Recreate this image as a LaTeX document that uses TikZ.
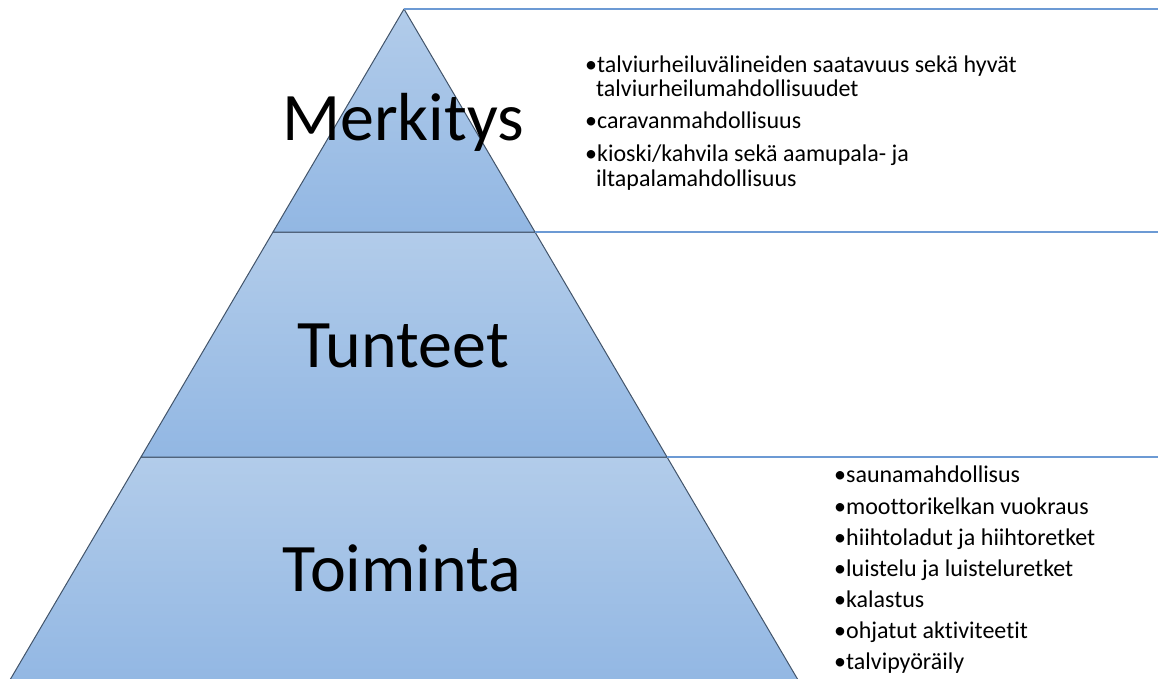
\documentclass[tikz,border=0pt]{standalone}
\usepackage{fontspec}
\setmainfont{Carlito}[Ligatures=NoCommon]
\definecolor{tiertop}{RGB}{178,204,234}
\definecolor{tierbot}{RGB}{146,183,227}
\definecolor{tieredge}{RGB}{66,84,106}
\definecolor{guideblue}{RGB}{108,154,212}
\tikzset{
  tier/.style={top color=tiertop, bottom color=tierbot, draw=tieredge, line width=1pt, line join=round},
  tierlabel/.style={font=\fontsize{68}{70}\selectfont, text=black, inner sep=0pt},
  guide/.style={draw=guideblue, line width=1.4pt},
  item/.style={font=\fontsize{24}{26}\selectfont, text=black, anchor=base west, inner sep=0pt},
}
\begin{document}
\begin{tikzpicture}[x=1pt,y=-1pt]
\useasboundingbox (0,0) rectangle (1158,679);
\clip (0,0) rectangle (1158,679);

% pyramid corners
\coordinate (apex) at (404,9);
\coordinate (l1) at (273,232);
\coordinate (r1) at (535,232);
\coordinate (l2) at (141,457);
\coordinate (r2) at (667,457);
\coordinate (l3) at (7,685);
\coordinate (r3) at (801,685);

% right ends of the guide lines
\coordinate (g0) at (1160,9);
\coordinate (g1) at (1160,232);
\coordinate (g2) at (1160,457);

% tiers
\path[tier] (l3) -- (l2) -- (r2) -- (r3) -- cycle;
\path[tier] (l2) -- (l1) -- (r1) -- (r2) -- cycle;
\path[tier] (l1) -- (apex) -- (r1) -- cycle;

% guide lines
\draw[guide] (apex) -- (g0);
\draw[guide] (r1) -- (g1);
\draw[guide] (r2) -- (g2);

% tier labels
\node[tierlabel] (merkitys) at (403,122) {Merkitys};
\node[tierlabel] (tunteet) at (403,346) {Tunteet};
\node[tierlabel] (toiminta) at (402,568) {Toiminta};

% top list
\node[item] (t1) at (585,73) {•talviurheiluvälineiden saatavuus sekä hyvät};
\node[item] (t1b) at (596,97) {talviurheilumahdollisuudet};
\node[item] (t2) at (585,129) {•caravanmahdollisuus};
\node[item] (t3) at (585,162) {•kioski/kahvila sekä aamupala- ja};
\node[item] (t3b) at (596,186) {iltapalamahdollisuus};

% bottom list
\node[item] (b1) at (834,482) {•saunamahdollisus};
\node[item] (b2) at (834,514) {•moottorikelkan vuokraus};
\node[item] (b3) at (834,545) {•hiihtoladut ja hiihtoretket};
\node[item] (b4) at (834,576) {•luistelu ja luisteluretket};
\node[item] (b5) at (834,607) {•kalastus};
\node[item] (b6) at (834,638) {•ohjatut aktiviteetit};
\node[item] (b7) at (834,669) {•talvipyöräily};
\end{tikzpicture}
\end{document}
